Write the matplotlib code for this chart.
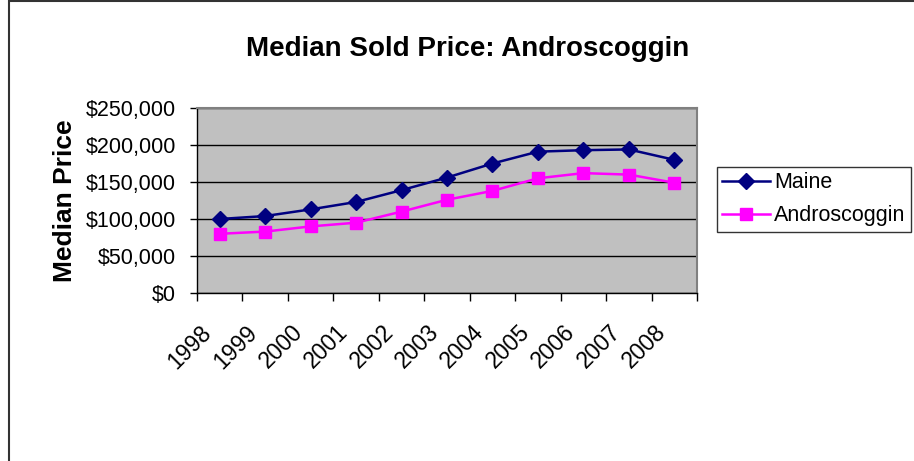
import matplotlib.pyplot as plt
from matplotlib.patches import Rectangle
from matplotlib.ticker import FuncFormatter, FixedLocator
from matplotlib.transforms import ScaledTranslation

years = ["1998", "1999", "2000", "2001", "2002", "2003",
         "2004", "2005", "2006", "2007", "2008"]
maine = [100000, 104000, 113000, 123000, 139000, 156000,
         175000, 191000, 193000, 194000, 180000]
androscoggin = [80000, 83000, 90000, 95000, 110000, 126000,
                138000, 155000, 162000, 160000, 149000]

plt.rcParams['font.family'] = ['Liberation Sans', 'DejaVu Sans']

fig = plt.figure(figsize=(9.14, 4.61), dpi=100)
W, H = 914, 461
ax = fig.add_axes([197 / W, 1 - 293 / H, 500 / W, 185 / H])

# outer chart frame
fig.patches.append(Rectangle((9 / W, -0.05), 1.2, 1.05 - 1 / H, transform=fig.transFigure,
                             fill=False, edgecolor="#333333", linewidth=1.5))

x = list(range(len(years)))
ax.set_facecolor("#C0C0C0")
ax.plot(x, maine, color="#000080", marker="D", markersize=8, linewidth=1.8,
        label="Maine", zorder=3)
ax.plot(x, androscoggin, color="#FF00FF", marker="s", markersize=9, linewidth=1.8,
        label="Androscoggin", zorder=3)

ax.set_xlim(-0.5, len(years) - 0.5)
ax.set_ylim(0, 250000)
ax.set_yticks(range(0, 250001, 50000))
ax.yaxis.set_major_formatter(FuncFormatter(lambda v, p: "${:,.0f}".format(v)))
ax.yaxis.grid(True, color="black", linewidth=1)
ax.set_axisbelow(True)

ax.set_xticks(x)
ax.set_xticklabels(years, rotation=45, ha="right", rotation_mode="anchor")
ax.xaxis.set_minor_locator(FixedLocator([i - 0.5 for i in range(len(years) + 1)]))
ax.tick_params(axis="x", which="major", length=0, pad=20, labelsize=16.5)
ax.tick_params(axis="x", which="minor", length=6, width=1, direction="out")
ax.tick_params(axis="y", length=5, width=1, direction="out", labelsize=15.5, pad=10)
shift = ScaledTranslation(-20 / 100, 0, fig.dpi_scale_trans)
for lab in ax.get_xticklabels():
    lab.set_transform(lab.get_transform() + shift)

for s in ["top", "right"]:
    ax.spines[s].set_color("#808080")
    ax.spines[s].set_linewidth(1.5)
for s in ["left", "bottom"]:
    ax.spines[s].set_color("black")
    ax.spines[s].set_linewidth(1)

ax.set_ylabel("Median Price", fontsize=19, fontweight="bold", labelpad=6)
fig.text(468 / W, 1 - 49 / H, "Median Sold Price: Androscoggin", ha="center", va="center",
         fontsize=20, fontweight="bold")

leg = fig.legend(loc="upper left", bbox_to_anchor=(717 / W, 1 - 167 / H), fontsize=15.5,
                 frameon=True, fancybox=False, edgecolor="black", handlelength=2.2,
                 handletextpad=0.2, borderpad=0.25, labelspacing=0.55, borderaxespad=0)
leg.get_frame().set_linewidth(1)

fig.savefig("out.png", dpi=100)
